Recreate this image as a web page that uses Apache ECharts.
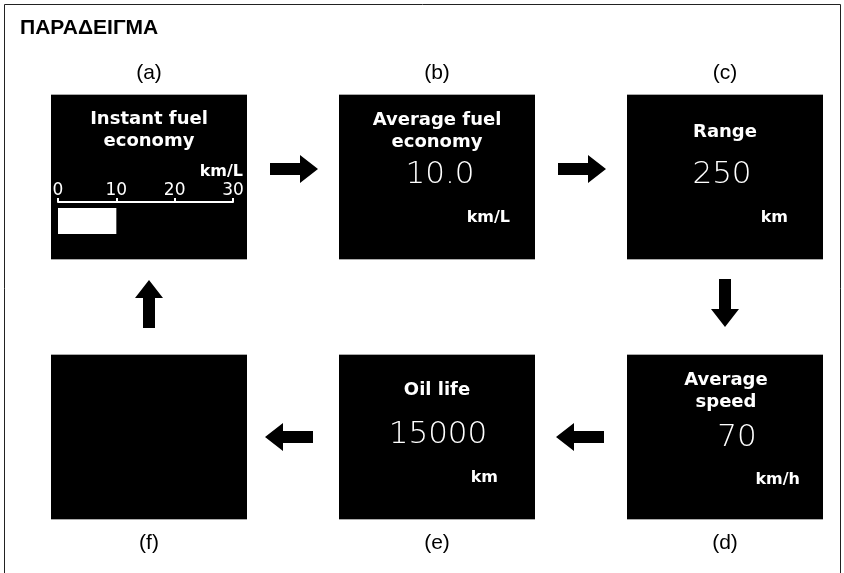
<!DOCTYPE html>
<html>
<head>
<meta charset="utf-8">
<script src="https://cdn.jsdelivr.net/npm/echarts@6/dist/echarts.min.js"></script>
<style>
  html, body { margin: 0; padding: 0; background: #fff; }
  #chart { width: 844px; height: 573px; }
</style>
</head>
<body>
<div id="chart"></div>
<script>
// 数据
const heading = 'ΠΑΡΑΔΕΙΓΜΑ'
const panelLetters = ['(a)', '(b)', '(c)', '(d)', '(e)', '(f)']
const panelTitles = [['Instant fuel', 'economy'], ['Average fuel', 'economy'], ['Range'], ['Average', 'speed'], ['Oil life'], []]
const panelValues = ['', '10.0', '250', '70', '15000', '']
const panelUnits = ['km/L', 'km/L', 'km', 'km/h', 'km', '']
const gaugeTicks = [0, 10, 20, 30]
const instantFuel = [10]

const chart = echarts.init(document.getElementById('chart'), null, { renderer: 'canvas' })

// 布局：每个面板的位置 (列, 行) 及文字偏移
const colLeft = [51, 339, 627]
const rowTop = [94, 354]
const panelW = 196
const panelH = 165
const panelPos = [[0, 0], [1, 0], [2, 0], [2, 1], [1, 1], [0, 1]]
const textLayout = [
  { title: [25, 47], tx: 98, value: null, unit: [192, 78] },
  { title: [26, 48], tx: 98, value: [101, 81], unit: [171, 124] },
  { title: [38], tx: 98, value: [95, 81], unit: [161, 124] },
  { title: [26, 48], tx: 99, value: [110, 84], unit: [173, 126] },
  { title: [36], tx: 98, value: [99, 81], unit: [159, 124] },
  { title: [], tx: 98, value: null, unit: null }
]

const screenFont = '"DejaVu Sans", sans-serif'
const graphic = []

// 外框
graphic.push({ type: 'polyline', shape: { points: [[4.5, 573], [4.5, 4.5], [840.5, 4.5], [840.5, 573]] }, style: { stroke: '#222', lineWidth: 1, fill: null } })
graphic.push({ type: 'text', x: 20, y: 28, style: { text: heading, fill: '#000', font: 'bold 21px "Liberation Sans", Arial, sans-serif', textVerticalAlign: 'middle' } })

panelPos.forEach(([c, r], i) => {
  const x0 = colLeft[c]
  const y0 = rowTop[r]
  const L = textLayout[i]
  graphic.push({ type: 'rect', z: 1, shape: { x: x0, y: y0, width: panelW, height: panelH }, style: { fill: '#000' } })
  graphic.push({ type: 'line', z: 2, shape: { x1: x0, y1: y0 + 0.5, x2: x0 + panelW, y2: y0 + 0.5 }, style: { stroke: '#aaa', lineWidth: 1 } })
  graphic.push({ type: 'line', z: 2, shape: { x1: x0, y1: y0 + panelH + 0.5, x2: x0 + panelW, y2: y0 + panelH + 0.5 }, style: { stroke: '#aaa', lineWidth: 1 } })
  // 面板标号
  const labelY = r === 0 ? 73 : 543
  graphic.push({ type: 'text', x: x0 + 98, y: labelY, style: { text: panelLetters[i], fill: '#000', font: '21px "Liberation Sans", Arial, sans-serif', textAlign: 'center', textVerticalAlign: 'middle' } })
  panelTitles[i].forEach((t, k) => {
    graphic.push({ type: 'text', z: 3, x: x0 + L.tx, y: y0 + L.title[k], style: { text: t, fill: '#fff', font: 'bold 18px ' + screenFont, textAlign: 'center', textVerticalAlign: 'middle' } })
  })
  if (L.value && panelValues[i]) {
    graphic.push({ type: 'text', z: 3, x: x0 + L.value[0], y: y0 + L.value[1], style: { text: panelValues[i], fill: '#fff', font: '200 31px ' + screenFont, textAlign: 'center', textVerticalAlign: 'middle' } })
  }
  if (L.unit && panelUnits[i]) {
    graphic.push({ type: 'text', z: 3, x: x0 + L.unit[0], y: y0 + L.unit[1], style: { text: panelUnits[i], fill: '#fff', font: 'bold 16px ' + screenFont, textAlign: 'right', textVerticalAlign: 'middle' } })
  }
})

// 箭头
function arrow(tx, ty, dir) {
  const len = 48, head = 18, sh = 6, hh = 14
  const pts = [[0, 0], [head, -hh], [head, -sh], [len, -sh], [len, sh], [head, sh], [head, hh]]
  const rot = { left: [1, 0, 0, 1], right: [-1, 0, 0, 1], up: [0, 1, 1, 0], down: [0, 1, -1, 0] }[dir]
  const points = pts.map(([a, b]) => [tx + rot[0] * a + rot[1] * b, ty + rot[2] * a + rot[3] * b])
  return { type: 'polygon', z: 2, shape: { points }, style: { fill: '#000' } }
}
graphic.push(arrow(318, 169, 'right'))
graphic.push(arrow(606, 169, 'right'))
graphic.push(arrow(725, 327, 'down'))
graphic.push(arrow(556, 437, 'left'))
graphic.push(arrow(265, 437, 'left'))
graphic.push(arrow(149, 280, 'up'))

const option = {
  animation: false,
  graphic,
  grid: { left: 58, right: 611, top: 202, height: 38, z: 10 },
  xAxis: {
    type: 'value',
    position: 'top',
    min: gaugeTicks[0],
    max: gaugeTicks[gaugeTicks.length - 1],
    interval: gaugeTicks[1] - gaugeTicks[0],
    z: 10,
    axisLine: { show: true, lineStyle: { color: '#fff', width: 2 } },
    axisTick: { show: true, length: 4, lineStyle: { color: '#fff', width: 2 } },
    axisLabel: { color: '#fff', fontSize: 17, fontFamily: 'DejaVu Sans', margin: 3 },
    splitLine: { show: false }
  },
  yAxis: { type: 'category', data: ['fuel'], show: false },
  series: [
    {
      type: 'bar',
      z: 10,
      data: instantFuel,
      barWidth: 26,
      itemStyle: { color: '#fff' }
    }
  ]
}
chart.setOption(option)
</script>
</body>
</html>
